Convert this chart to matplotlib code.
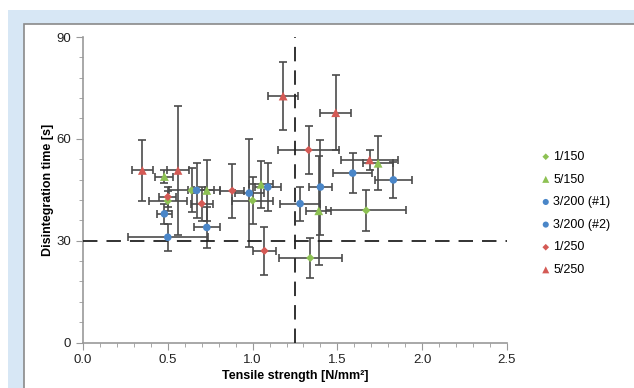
import matplotlib
matplotlib.use("Agg")
import matplotlib.pyplot as plt
from matplotlib.patches import Rectangle
from matplotlib.ticker import MultipleLocator

plt.rcParams['font.family'] = ['Liberation Sans', 'DejaVu Sans']

# Data: x, y, xerr, yerr per series
g150_x = [0.50, 0.64, 1.00, 1.67, 1.34]
g150_y = [41.7, 44.8, 41.8, 38.9, 24.9]
g150_xe = [0.113, 0.13, 0.123, 0.235, 0.187]
g150_ye = [3, 6.5, 7, 6, 6]

g5150_x = [0.48, 0.73, 1.05, 1.74, 1.39]
g5150_y = [48.9, 44.8, 46.6, 52.8, 38.8]
g5150_xe = [0.053, 0.075, 0.07, 0.09, 0.075]
g5150_ye = [2, 9, 7, 8, 16]

b1_x = [0.48, 0.50, 0.67, 0.73, 0.98]
b1_y = [37.9, 31.0, 44.8, 33.9, 44.0]
b1_xe = [0.043, 0.235, 0.05, 0.075, 0.085]
b1_ye = [3, 4, 8, 6, 16]

b2_x = [1.09, 1.28, 1.40, 1.59, 1.83]
b2_y = [45.8, 40.9, 45.8, 49.9, 47.9]
b2_xe = [0.075, 0.117, 0.066, 0.115, 0.108]
b2_ye = [7, 5, 14, 6, 5.3]

r1250_x = [0.50, 0.70, 0.88, 1.33, 1.07]
r1250_y = [42.9, 40.9, 44.7, 56.7, 27.0]
r1250_xe = [0.05, 0.064, 0.07, 0.18, 0.07]
r1250_ye = [3, 5, 8, 7, 7]

r5250_x = [0.35, 0.56, 1.18, 1.49, 1.69]
r5250_y = [50.7, 50.7, 72.6, 67.7, 53.8]
r5250_xe = [0.06, 0.067, 0.087, 0.09, 0.166]
r5250_ye = [9, 19, 10, 11, 3]

green = '#8dc153'
blue = '#4a86c8'
red = '#d45a55'

series = [
    ('1/150', g150_x, g150_y, g150_xe, g150_ye, green, 'D', 18),
    ('5/150', g5150_x, g5150_y, g5150_xe, g5150_ye, green, '^', 40),
    ('3/200 (#1)', b1_x, b1_y, b1_xe, b1_ye, blue, 'o', 30),
    ('3/200 (#2)', b2_x, b2_y, b2_xe, b2_ye, blue, 'o', 30),
    ('1/250', r1250_x, r1250_y, r1250_xe, r1250_ye, red, 'D', 18),
    ('5/250', r5250_x, r5250_y, r5250_xe, r5250_ye, red, '^', 40),
]

fig = plt.figure(figsize=(6.34, 3.88), dpi=100)
W, H = 634, 388

# Light blue frame and white panel behind the chart
fig.patches.append(Rectangle((8 / W, 0), 1, (H - 10) / H, transform=fig.transFigure,
                             facecolor='#d7e7f5', edgecolor='none', zorder=-10))
fig.patches.append(Rectangle((24 / W, -0.01), 1, (H - 24) / H + 0.01, transform=fig.transFigure,
                             facecolor='white', edgecolor='#8a8a8a', linewidth=1.2, zorder=-9))

ax = fig.add_axes([83 / W, 1 - 342.5 / H, (507 - 83) / W, (342.5 - 37) / H])
ax.patch.set_alpha(0)

handles = []
for label, x, y, xe, ye, col, mk, sz in series:
    ax.errorbar(x, y, xerr=xe, yerr=ye, fmt='none', ecolor='#4a4a4a',
                elinewidth=1.4, capsize=3, capthick=1.4, alpha=0.85, zorder=2)
    h = ax.scatter(x, y, s=sz, marker=mk, color=col, edgecolors='none', zorder=4, label=label)
    handles.append(h)

ax.axhline(30, color='#222222', lw=1.3, dashes=(8, 5), zorder=3)
ax.axvline(1.25, color='#222222', lw=1.3, dashes=(8, 5), zorder=3)

ax.set_xlim(0, 2.5)
ax.set_ylim(0, 90)
ax.xaxis.set_major_locator(MultipleLocator(0.5))
ax.xaxis.set_minor_locator(MultipleLocator(0.1))
ax.yaxis.set_major_locator(MultipleLocator(30))
ax.yaxis.set_minor_locator(MultipleLocator(6))
ax.xaxis.set_major_formatter(plt.FuncFormatter(lambda v, p: f'{v:.1f}'))

for s in ['top', 'right']:
    ax.spines[s].set_visible(False)
for s in ['left', 'bottom']:
    ax.spines[s].set_color('#999999')
    ax.spines[s].set_linewidth(1.2)
ax.tick_params(which='major', length=5, color='#999999', labelsize=9.5, labelcolor='#222222')
ax.tick_params(which='minor', length=3, color='#999999')

ax.set_xlabel('Tensile strength [N/mm²]', fontsize=9, fontweight='bold', labelpad=3)
ax.set_ylabel('Disintegration time [s]', fontsize=9, fontweight='bold', labelpad=2)

fig.legend(handles=handles, loc='upper left', bbox_to_anchor=(537 / W, 1 - 146 / H),
           frameon=False, fontsize=9, handlelength=0.6, handletextpad=0.3,
           labelspacing=0.85, markerscale=0.8, borderaxespad=0)

fig.savefig('out.png', dpi=100)
